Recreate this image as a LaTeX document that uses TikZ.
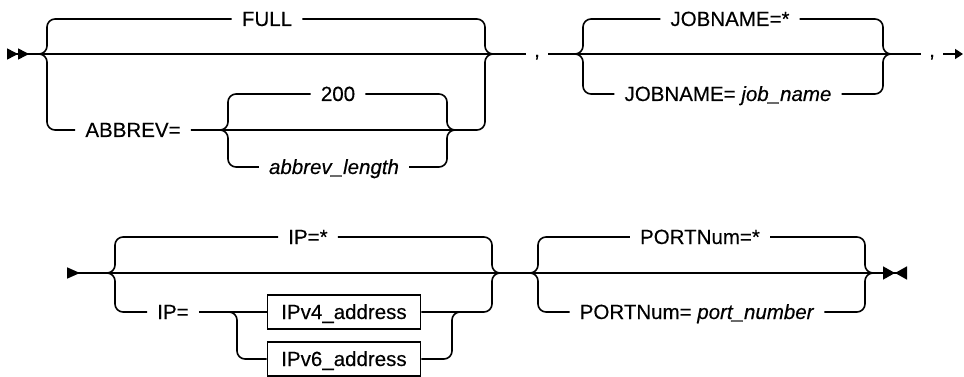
\documentclass[tikz,border=0pt]{standalone}
\usepackage{fontspec}
\setmainfont{Liberation Sans}[FakeBold=0.3]
\usetikzlibrary{arrows.meta}
\tikzset{
  syntax rail/.style={line width=1.6pt, rounded corners=8pt},
  syntax word/.style={
    inner xsep=10pt, inner ysep=0pt,
    text height=18pt, text depth=4pt,
    font=\fontsize{20.5}{23}\selectfont
  },
  syntax var/.style={syntax word, font=\fontsize{20.5}{23}\selectfont\itshape},
  syntax box/.style={
    syntax word, draw, line width=1.6pt, inner xsep=0pt,
    minimum width=153pt, minimum height=34pt
  },
  syntax comma/.style={syntax word, inner xsep=8pt}
}

\begin{document}
\begin{tikzpicture}[x=1pt, y=-1pt]
    \useasboundingbox (0,0) rectangle (964,377);
    \coordinate (startA) at (7,54);
    \coordinate (splitA) at (37,54);
    \coordinate (joinA) at (495,54);
    \coordinate (splitB) at (218,130);
    \coordinate (joinB) at (457,130);
    \coordinate (splitC) at (573,54);
    \coordinate (joinC) at (893,54);
    \coordinate (finishA) at (963,54);
    \node[syntax word] (full) at (267,19) {FULL};
    \node[syntax word] (abbrev) at (133,130) {ABBREV=};
    \node[syntax word] (dflt) at (338,94) {200};
    \node[syntax var] (abbrevlen) at (334,167) {abbrev\_length};
    \node[syntax comma] (commaA) at (537,54) {\raisebox{4pt}{,}};
    \node[syntax word] (jobany) at (730,19) {JOBNAME=*};
    \node[syntax word] (jobname) at (728,94) {JOBNAME= \textit{job\_name}};
    \node[syntax comma] (commaB) at (932,54) {\raisebox{4pt}{,}};
    \draw[syntax rail, {Triangle[reversed,length=11pt,width=11pt]Triangle[reversed,length=11pt,width=11pt]}-] (startA) -- (commaA);
    \draw[syntax rail] (splitA) -- ++(10,0) |- (full);
    \draw[syntax rail] (full) -| ([xshift=-10pt]joinA) -- (joinA);
    \draw[syntax rail] (splitA) -- ++(10,0) |- (abbrev);
    \draw[syntax rail] (abbrev) -| ([xshift=-10pt]joinA) -- (joinA);
    \draw[syntax rail] (splitB) -- ++(10,0) |- (dflt);
    \draw[syntax rail] (dflt) -| ([xshift=-10pt]joinB) -- (joinB);
    \draw[syntax rail] (splitB) -- ++(10,0) |- (abbrevlen);
    \draw[syntax rail] (abbrevlen) -| ([xshift=-10pt]joinB) -- (joinB);
    \draw[syntax rail] (commaA) -- (commaB);
    \draw[syntax rail] (splitC) -- ++(10,0) |- (jobany);
    \draw[syntax rail] (jobany) -| ([xshift=-10pt]joinC) -- (joinC);
    \draw[syntax rail] (splitC) -- ++(10,0) |- (jobname);
    \draw[syntax rail] (jobname) -| ([xshift=-10pt]joinC) -- (joinC);
    \draw[syntax rail, -{Triangle[length=8pt,width=10pt]}] (commaB) -- (finishA);

    \coordinate (startB) at (67,273);
    \coordinate (splitD) at (105,273);
    \coordinate (joinD) at (502,273);
    \coordinate (splitE) at (227,312);
    \coordinate (joinE) at (462,312);
    \coordinate (splitF) at (528,273);
    \coordinate (joinF) at (875,273);
    \coordinate (finishB) at (907,273);
    \node[syntax word] (ipany) at (308,237) {IP=*};
    \node[syntax word] (ipeq) at (173,312) {IP=};
    \node[syntax box] (ipfour) at (344,312) {IPv4\_address};
    \node[syntax box] (ipsix) at (344,359) {IPv6\_address};
    \node[syntax word] (portany) at (700,237) {PORTNum=*};
    \node[syntax word] (portnum) at (697,312) {PORTNum= \textit{port\_number}};
    \draw[syntax rail, {Triangle[reversed,length=13pt,width=11pt]}-{Triangle[length=12pt,width=13pt]Triangle[reversed,length=12pt,width=13pt]}] (startB) -- (finishB);
    \draw[syntax rail] (splitD) -- ++(10,0) |- (ipany);
    \draw[syntax rail] (ipany) -| ([xshift=-10pt]joinD) -- (joinD);
    \draw[syntax rail] (splitD) -- ++(10,0) |- (ipeq);
    \draw[syntax rail] (ipeq) -- (ipfour);
    \draw[syntax rail] (ipfour) -| ([xshift=-10pt]joinD) -- (joinD);
    \draw[syntax rail] (splitE) -- ++(10,0) |- (ipsix);
    \draw[syntax rail] (ipsix) -| ([xshift=-10pt]joinE) -- (joinE);
    \draw[syntax rail] (splitF) -- ++(10,0) |- (portany);
    \draw[syntax rail] (portany) -| ([xshift=-10pt]joinF) -- (joinF);
    \draw[syntax rail] (splitF) -- ++(10,0) |- (portnum);
    \draw[syntax rail] (portnum) -| ([xshift=-10pt]joinF) -- (joinF);
\end{tikzpicture}
\end{document}
